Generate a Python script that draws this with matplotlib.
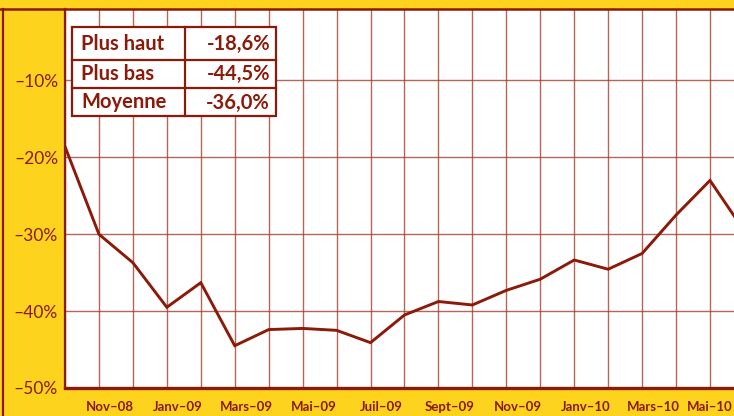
import matplotlib
matplotlib.use("Agg")
import matplotlib.pyplot as plt
from matplotlib.lines import Line2D
from matplotlib.patches import Rectangle

months = ["Oct-08", "Nov-08", "Déc-08", "Janv-09", "Févr-09", "Mars-09", "Avr-09",
          "Mai-09", "Juin-09", "Juil-09", "Août-09", "Sept-09", "Oct-09", "Nov-09",
          "Déc-09", "Janv-10", "Févr-10", "Mars-10", "Avr-10", "Mai-10", "Juin-10"]
values = [-18.6, -30.0, -33.7, -39.5, -36.3, -44.5, -42.4, -42.25, -42.5, -44.1,
          -40.5, -38.75, -39.2, -37.3, -35.85, -33.35, -34.55, -32.5, -27.5, -23.0, -29.5]
tick_months = ["Nov-08", "Janv-09", "Mars-09", "Mai-09", "Juil-09", "Sept-09",
               "Nov-09", "Janv-10", "Mars-10", "Mai-10"]
y_ticks = [-50, -40, -30, -20, -10]
table_labels = ["Plus haut", "Plus bas", "Moyenne"]
table_values = ["-18,6%", "-44,5%", "-36,0%"]

YELLOW = "#FDD31E"
RED = "#8C1A0A"
GRID = "#A4402F"

W, H = 734, 416
plt.rcParams['font.family'] = ['Lato', 'DejaVu Sans']
fig = plt.figure(figsize=(W / 100, H / 100), dpi=100)
fig.patch.set_facecolor(YELLOW)

def fx(px):
    return px / W

def fy(py):
    return 1 - py / H

ax_left, ax_top, ax_bottom = 65, 9, 388
ax = fig.add_axes([fx(ax_left), fy(ax_bottom), 1 - fx(ax_left), (ax_bottom - ax_top) / H])
ax.set_facecolor("white")

x = list(range(len(months)))
ax.plot(x, values, color=RED, lw=2.1, zorder=3, solid_joinstyle='miter')

spacing = (710 - 65) / 19
ax.set_xlim(0, (W - ax_left) / spacing)
ax.set_ylim(-50, -0.7)

for i in x:
    ax.axvline(i, color=GRID, lw=1.0, alpha=0.8, zorder=1)
for v in y_ticks[1:]:
    ax.axhline(v, color=GRID, lw=1.0, alpha=0.8, zorder=1)

ax.set_yticks(y_ticks)
ax.set_yticklabels([f"–{abs(v)}%" for v in y_ticks], color=RED, fontsize=12.5)
ax.tick_params(axis='y', length=0, pad=5)
ax.tick_params(axis='x', length=0)
ax.set_xticks([])
for lab in tick_months:
    i = months.index(lab)
    txt = lab.replace("-", "–")
    if lab == tick_months[-1]:
        fig.text(fx(W - 1), fy(407), txt, ha='right', va='center', color=RED,
                 fontsize=9.5, fontweight='bold')
    else:
        ax.text(i + 0.33, -0.05, txt, transform=ax.get_xaxis_transform(),
                ha='center', va='center', color=RED, fontsize=9.5, fontweight='bold',
                clip_on=False)

ax.spines['right'].set_visible(False)
ax.spines['top'].set_visible(False)
ax.spines['left'].set_color(RED)
ax.spines['left'].set_linewidth(1.6)
ax.spines['bottom'].set_color(RED)
ax.spines['bottom'].set_linewidth(2.4)

# frame lines
fig.add_artist(Line2D([0, 1], [fy(8.8), fy(8.8)], color=RED, lw=1.8, transform=fig.transFigure))
fig.add_artist(Line2D([fx(3), fx(3)], [fy(8.8), 0], color=RED, lw=1.6, transform=fig.transFigure))

# table
tx0, tx1, txm = 72, 276, 185
rows_y = [27, 59.5, 88, 116]
fig.add_artist(Rectangle((fx(tx0), fy(rows_y[-1])), fx(tx1 - tx0), (rows_y[-1] - rows_y[0]) / H,
                         facecolor='white', edgecolor=RED, lw=1.6, transform=fig.transFigure, zorder=5))
for yy in rows_y[1:-1]:
    fig.add_artist(Line2D([fx(tx0), fx(tx1)], [fy(yy), fy(yy)], color=RED, lw=1.6,
                          transform=fig.transFigure, zorder=6))
fig.add_artist(Line2D([fx(txm), fx(txm)], [fy(rows_y[0]), fy(rows_y[-1])], color=RED, lw=1.6,
                      transform=fig.transFigure, zorder=6))
for k, (lab, val) in enumerate(zip(table_labels, table_values)):
    yc = (rows_y[k] + rows_y[k + 1]) / 2 + 0.5
    fig.text(fx(81), fy(yc), lab, ha='left', va='center', color=RED, fontsize=14.5,
             fontweight='bold', zorder=7)
    fig.text(fx(270), fy(yc), val, ha='right', va='center', color=RED, fontsize=14.5,
             fontweight='bold', zorder=7)

fig.savefig("out.png", dpi=100, facecolor=YELLOW)
